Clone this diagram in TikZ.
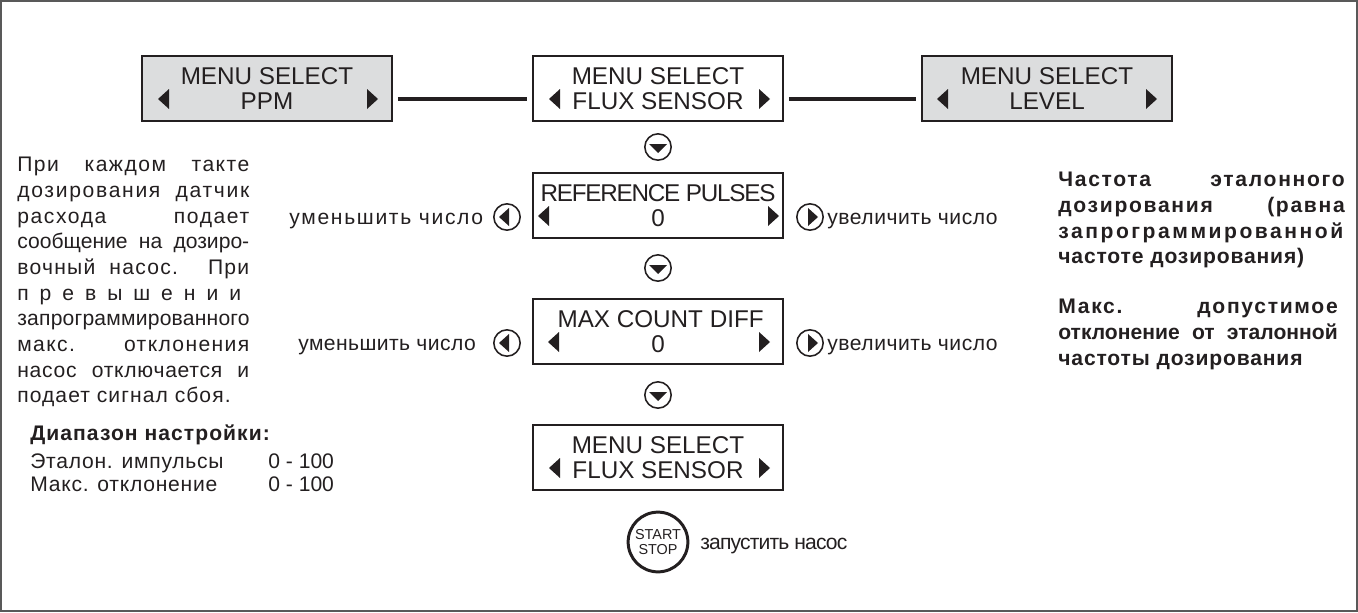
\documentclass[tikz,border=0pt]{standalone}
\usepackage{fontspec}
\setmainfont{Liberation Sans}
\hbadness=10000
\hfuzz=20pt
\definecolor{inkgray}{HTML}{231F20}
\definecolor{panelgray}{HTML}{DCDDDE}
\newlength{\colw}
% one justified line with its own tracking
\newcommand{\jl}[2]{\hbox to \colw{\addfontfeature{LetterSpace=#1}#2}}
\newcommand{\trackt}[2]{{\addfontfeature{LetterSpace=#1}#2}}
\newcommand{\tril}[2]{\fill[inkgray] (#1,#2) -- ++(11,-10) -- ++(0,20) -- cycle;}
\newcommand{\trir}[2]{\fill[inkgray] (#1,#2) -- ++(-11,-10) -- ++(0,20) -- cycle;}
\tikzset{
	lcdbox/.style={draw=inkgray,line width=1.1pt,minimum width=142pt,minimum height=36.5pt,inner sep=0pt,align=center,text=inkgray,font=\fontsize{13.8}{14.2}\selectfont},
	graybox/.style={lcdbox,fill=panelgray},
	link/.style={inkgray,line width=1.8pt,shorten <=3pt,shorten >=3pt},
	keybtn/.style={circle,draw=inkgray,line width=0.9pt,minimum size=15pt,inner sep=0pt},
	startbtn/.style={circle,draw=inkgray,line width=1.7pt,minimum size=34pt,inner sep=0pt,align=center,text=inkgray,font=\fontsize{8.2}{8.4}\selectfont},
	bodytext/.style={inner sep=0pt,anchor=base west,text=inkgray,font=\fontsize{12}{14.6}\selectfont},
	parabox/.style={inner sep=0pt,anchor=north west,align=left,text=inkgray,font=\fontsize{12}{14.6}\selectfont},
}
\begin{document}
\begin{tikzpicture}[x=0.02cm,y=-0.02cm]
	\useasboundingbox (0,0) rectangle (1358,612);
	\draw[gray!70!black,line width=0.9pt] (1,1) rectangle (1357,611);

	\node[graybox] (ppm) at (267,88.5) {MENU SELECT\\PPM};
	\node[lcdbox] (fluxtop) at (658,88.5) {MENU SELECT\\FLUX SENSOR};
	\node[graybox] (level) at (1047,88.5) {MENU SELECT\\LEVEL};
	\node[lcdbox] (refpulses) at (658,205.5) {\trackt{-5}{REFERENCE PULSES}\\0};
	\node[lcdbox] (maxdiff) at (658,331.5) {\hspace*{3pt}MAX COUNT DIFF\\0};
	\node[lcdbox] (fluxend) at (658,457.5) {MENU SELECT\\FLUX SENSOR};

	\draw[link] ([yshift=-6pt]ppm.east) -- ([yshift=-6pt]fluxtop.west);
	\draw[link] ([yshift=-6pt]fluxtop.east) -- ([yshift=-6pt]level.west);

	\tril{158}{99} \trir{378}{99}
	\tril{549}{99} \trir{770}{99}
	\tril{937}{99} \trir{1157}{99}
	\tril{538}{216} \trir{779}{216}
	\tril{548}{342} \trir{770}{342}
	\tril{549}{468} \trir{770}{468}

	\node[keybtn] (downa) at (658,147) {};
	\node[keybtn] (downb) at (658,268) {};
	\node[keybtn] (downc) at (658,395) {};
	\fill[inkgray] (649,144) -- (667,144) -- (658,153) -- cycle;
	\fill[inkgray] (649,265) -- (667,265) -- (658,274) -- cycle;
	\fill[inkgray] (649,392) -- (667,392) -- (658,401) -- cycle;

	\node[keybtn] (lessa) at (507,217) {};
	\node[keybtn] (morea) at (810,217) {};
	\node[keybtn] (lessb) at (507,343) {};
	\node[keybtn] (moreb) at (810,343) {};
	\fill[inkgray] (499,217) -- (509,208) -- (509,226) -- cycle;
	\fill[inkgray] (818,217) -- (808,208) -- (808,226) -- cycle;
	\fill[inkgray] (499,343) -- (509,334) -- (509,352) -- cycle;
	\fill[inkgray] (818,343) -- (808,334) -- (808,352) -- cycle;

	\node[bodytext] (lessatxt) at (289,224) {\trackt{8}{уменьшить число}};
	\node[bodytext] (lessbtxt) at (298,350) {\trackt{2}{уменьшить число}};
	\node[bodytext] (moreatxt) at (827,224) {\trackt{2.5}{увеличить число}};
	\node[bodytext] (morebtxt) at (827,350) {\trackt{2.5}{увеличить число}};

	\node[startbtn] (startstop) at (658,542) {START\\STOP};
	\node[bodytext] (starttxt) at (700,549) {\trackt{-4}{запустить насос}};

	\setlength{\colw}{132pt}
	\node[parabox] (leftnote) at (17,157) {%
		\jl{7}{При каждом такте}\\
		\jl{8}{дозирования датчик}\\
		\jl{7.5}{расхода подает}\\
		\jl{0}{сообщение на дозиро-}\\
		\jl{6}{вочный насос. При}\\
		\jl{52}{превышении}\\
		\jl{1}{запрограммированного}\\
		\jl{6.5}{макс. отклонения}\\
		\jl{3.5}{насос отключается и}\\
		\trackt{5}{подает сигнал сбоя.}%
	};

	\node[bodytext] (rangehead) at (30,440) {\bfseries\trackt{5}{Диапазон настройки:}};
	\node[bodytext] (rangea) at (30,468) {\trackt{3.5}{Эталон. импульсы}};
	\node[bodytext] (rangeav) at (268,468) {0 - 100};
	\node[bodytext] (rangeb) at (30,491) {\trackt{3.5}{Макс. отклонение}};
	\node[bodytext] (rangebv) at (268,491) {0 - 100};

	\setlength{\colw}{163pt}
	\node[parabox,font=\fontsize{12}{14.6}\selectfont\bfseries] (rightnotea) at (1058,172) {%
		\jl{8}{Частота эталонного}\\
		\jl{8}{дозирования (равна}\\
		\jl{12}{запрограммированной}\\
		\trackt{4}{частоте дозирования)}%
	};
	\setlength{\colw}{159pt}
	\node[parabox,font=\fontsize{12}{14.6}\selectfont\bfseries] (rightnoteb) at (1058,299) {%
		\jl{8}{Макс. допустимое}\\
		\jl{0}{отклонение от эталонной}\\
		\trackt{4}{частоты дозирования}%
	};
\end{tikzpicture}
\end{document}
